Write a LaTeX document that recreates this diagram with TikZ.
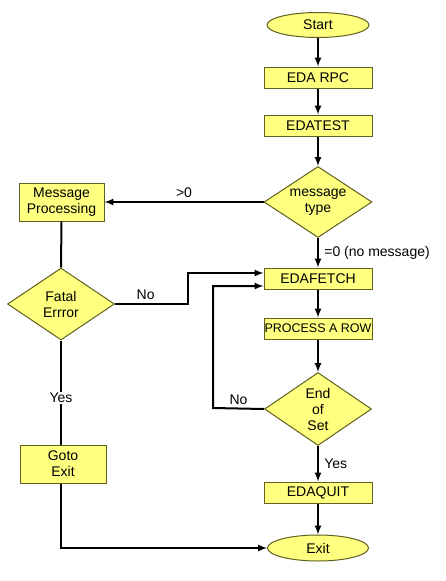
\documentclass[tikz,border=0pt]{standalone}
\usepackage{fontspec}
\setmainfont{Liberation Sans}
\usetikzlibrary{shapes.geometric,arrows}

\definecolor{boxfill}{HTML}{FFFF80}
\definecolor{boxline}{HTML}{606020}

\tikzset{
  box/.style={draw=boxline, fill=boxfill, line width=1pt, inner sep=0pt, minimum width=108pt, minimum height=21pt, align=center},
  bigbox/.style={box, minimum width=85pt, minimum height=38pt},
  decision/.style={draw=boxline, fill=boxfill, line width=1pt, diamond, shape aspect=1.5, inner sep=0pt, minimum width=107pt, minimum height=72pt, align=center},
  terminal/.style={draw=boxline, fill=boxfill, line width=1pt, ellipse, inner sep=0pt, minimum width=102pt, minimum height=25pt},
  flow/.style={-latex, line width=2pt},
  link/.style={line width=2pt}
}

\begin{document}
\begin{tikzpicture}[x=1pt, y=-1pt, font=\fontsize{14}{16}\selectfont]
\useasboundingbox (0,0) rectangle (446,581);

% main column
\node[terminal] (start) at (318,25) {Start};
\node[box] (edarpc) at (318,77.5) {EDA RPC};
\node[box] (edatest) at (318,125.5) {EDATEST};
\node[decision, minimum width=108pt, minimum height=71pt] (msgtype) at (318,202) {message\\type};
\node[box] (edafetch) at (318,278.5) {EDAFETCH};
\node[box, font=\fontsize{12.5}{14}\selectfont] (process) at (318,328.5) {PROCESS A ROW};
\node[decision, minimum height=73pt] (endset) at (318,409) {End\\of\\Set};
\node[box] (edaquit) at (318,492.5) {EDAQUIT};
\node[terminal, minimum width=101pt, minimum height=26pt] (exit) at (318,548) {Exit};

% message branch
\node[bigbox] (msgproc) at (61.5,202) {Message\\Processing};
\node[decision] (fatal) at (61,304) {Fatal\\Errror};
\node[bigbox, minimum width=86pt] (gotoexit) at (63,464) {Goto\\Exit};

\coordinate (nojog) at (188,304);
\coordinate (loopjog) at (213,408);

\draw[flow] (start) -- (edarpc);
\draw[flow] (edarpc) -- (edatest);
\draw[flow] (edatest) -- (msgtype);
\draw[flow] (msgtype.west) -- node[above] {>0} (msgproc.east);
\draw[flow] (msgtype.south) -- node[right, xshift=2pt] {=0 (no message)} (edafetch.north);
\draw[flow] (edafetch) -- (process);
\draw[flow] (process) -- (endset.north);
\draw[flow] (endset.south) -- node[right, xshift=2pt] {Yes} (edaquit.north);
\draw[flow] (edaquit) -- (exit);

\draw[link] (msgproc.south) -- (fatal.north);
\draw[flow] (fatal.east) -- node[above, pos=0.42] {No} (nojog) |- ([yshift=5.5pt]edafetch.west);
\draw[flow] (endset.west) -- node[above] {No} (loopjog) |- ([yshift=-7.5pt]edafetch.west);
\draw[link] (fatal.south) -- node[fill=white, inner sep=1pt, pos=0.55] {Yes} (fatal.south |- gotoexit.north);
\draw[flow] (fatal.south |- gotoexit.south) |- (exit.west);
\end{tikzpicture}
\end{document}
